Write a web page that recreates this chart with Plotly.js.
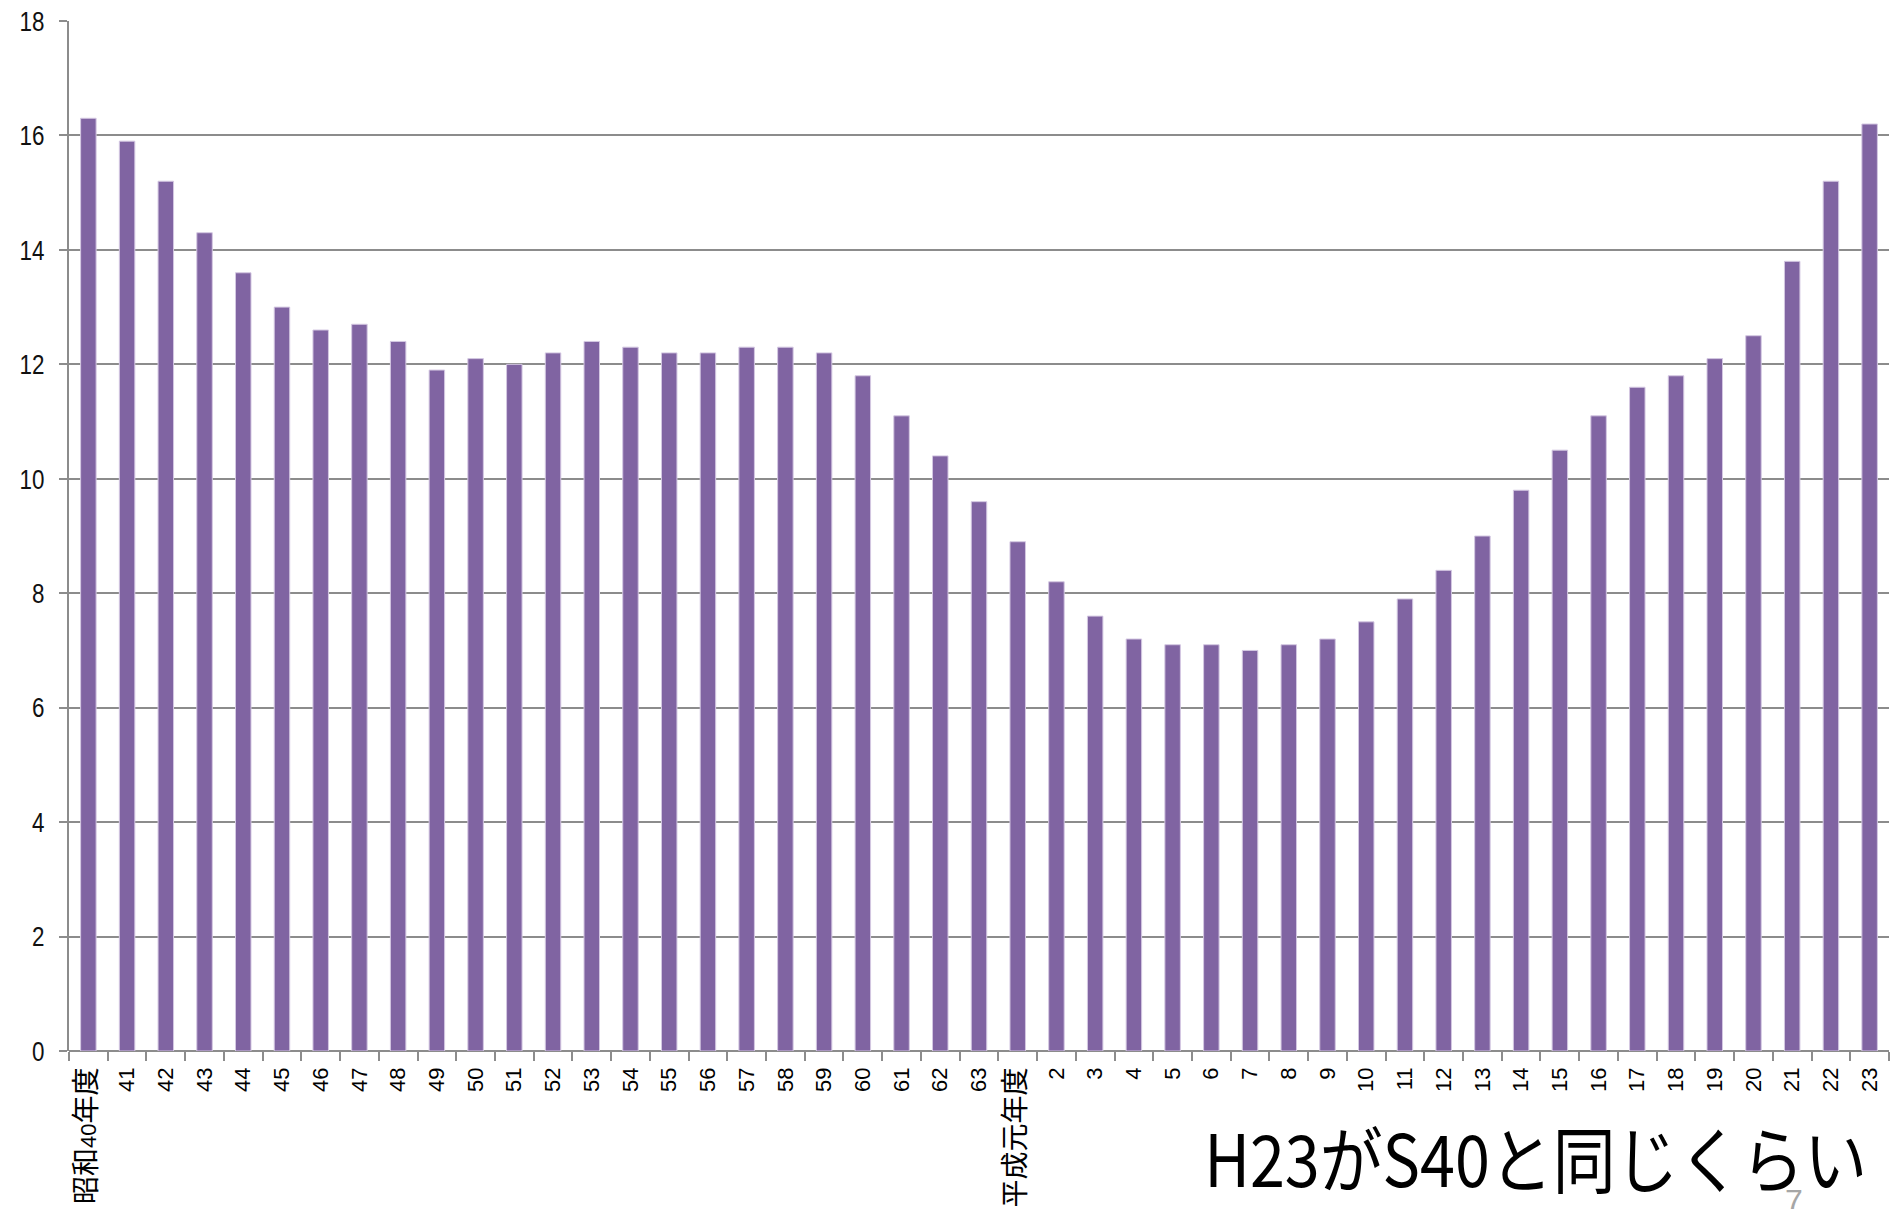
<!DOCTYPE html>
<html>
<head>
<meta charset="utf-8">
<script src="https://cdn.plot.ly/plotly-3.0.1.min.js"></script>
<style>
html,body{margin:0;padding:0;background:#fff;}
#chart{width:1890px;height:1209px;}
</style>
</head>
<body>
<div id="chart"></div>
<script>
// Fiscal years: Showa 40 - 63, Heisei 1 - 23
const years = ["昭和40年度","41","42","43","44","45","46","47","48","49","50","51","52","53","54","55","56","57","58","59","60","61","62","63",
  "平成元年度","2","3","4","5","6","7","8","9","10","11","12","13","14","15","16","17","18","19","20","21","22","23"];
const values = [16.3,15.9,15.2,14.3,13.6,13.0,12.6,12.7,12.4,11.9,12.1,12.0,12.2,12.4,12.3,12.2,12.2,12.3,12.3,12.2,11.8,11.1,10.4,9.6,
  8.9,8.2,7.6,7.2,7.1,7.1,7.0,7.1,7.2,7.5,7.9,8.4,9.0,9.8,10.5,11.1,11.6,11.8,12.1,12.5,13.8,15.2,16.2];
const yTicks = [0,2,4,6,8,10,12,14,16,18];
const noteText = "H23がS40と同じくらい";
const pageNo = "7";

// larger glyphs for the CJK characters inside tick labels
const tickText = years.map(s => s.replace(/([^\x00-\x7F]+)/g, '<span style="font-size:28px">$1</span>'));

const trace = {
  type: "bar",
  x: years,
  y: values,
  marker: {color: "#8064A2", line: {color: "#D4C8E2", width: 1}},
  width: 0.4,
  hoverinfo: "x+y"
};

const layout = {
  width: 1890,
  height: 1209,
  margin: {l: 69, r: 1, t: 21, b: 158, pad: 0},
  paper_bgcolor: "#ffffff",
  plot_bgcolor: "#ffffff",
  showlegend: false,
  bargap: 0.6,
  xaxis: {
    type: "category",
    tickmode: "array",
    tickvals: years,
    ticktext: tickText,
    tickangle: -90,
    ticks: "outside",
    tickson: "boundaries",
    ticklen: 9,
    tickwidth: 2,
    tickcolor: "#8c8c8c",
    showgrid: false,
    zeroline: false,
    showline: false,
    tickfont: {family: "Liberation Sans, Arial, Noto Sans CJK JP", size: 22, color: "#000"},
    ticklabelstandoff: 11,
    fixedrange: true
  },
  yaxis: {
    range: [0, 18],
    tickmode: "array",
    tickvals: yTicks,
    ticktext: yTicks.map(String),
    ticks: "outside",
    ticklen: 8,
    tickwidth: 2,
    tickcolor: "#8c8c8c",
    showgrid: true,
    gridcolor: "#8c8c8c",
    gridwidth: 2,
    zeroline: true,
    zerolinecolor: "#8c8c8c",
    zerolinewidth: 2,
    showline: true,
    linecolor: "#8c8c8c",
    linewidth: 2,
    tickfont: {family: "Liberation Sans Narrow, Liberation Sans, Arial", size: 28, color: "#111"},
    ticklabelstandoff: 9,
    fixedrange: true
  },
  annotations: [
    {
      xref: "paper", yref: "paper",
      x: 0.806, y: -0.101,
      xanchor: "center", yanchor: "middle",
      text: noteText,
      showarrow: false,
      font: {family: "Noto Sans CJK JP", size: 72, color: "#000"}
    },
    {
      xref: "paper", yref: "paper",
      x: 0.948, y: -0.126,
      xanchor: "center", yanchor: "top",
      text: pageNo,
      showarrow: false,
      font: {family: "Liberation Sans Narrow, Liberation Sans", size: 32, color: "#a6a6a6"}
    }
  ]
};

Plotly.newPlot("chart", [trace], layout, {displayModeBar: false, staticPlot: true}).then(() => {
  // condense the big note horizontally to match the narrow typeface of the reference
  document.querySelectorAll("#chart .annotation-text").forEach(t => {
    if (t.textContent === noteText) {
      const bb = t.getBBox();
      const target = 663;
      const s = Math.min(1, target / bb.width);
      const cx = bb.x + bb.width / 2;
      t.setAttribute("transform", `translate(${cx},0) scale(${s},1) translate(${-cx},0)`);
    }
  });
  // narrow y tick labels, anchored at their right edge
  document.querySelectorAll("#chart .ytick text").forEach(t => {
    const bb = t.getBBox();
    const rx = bb.x + bb.width;
    const prev = t.getAttribute("transform") || "";
    t.setAttribute("transform", `${prev} translate(${rx},0) scale(0.8,1) translate(${-rx},0)`);
  });
});
</script>
</body>
</html>
